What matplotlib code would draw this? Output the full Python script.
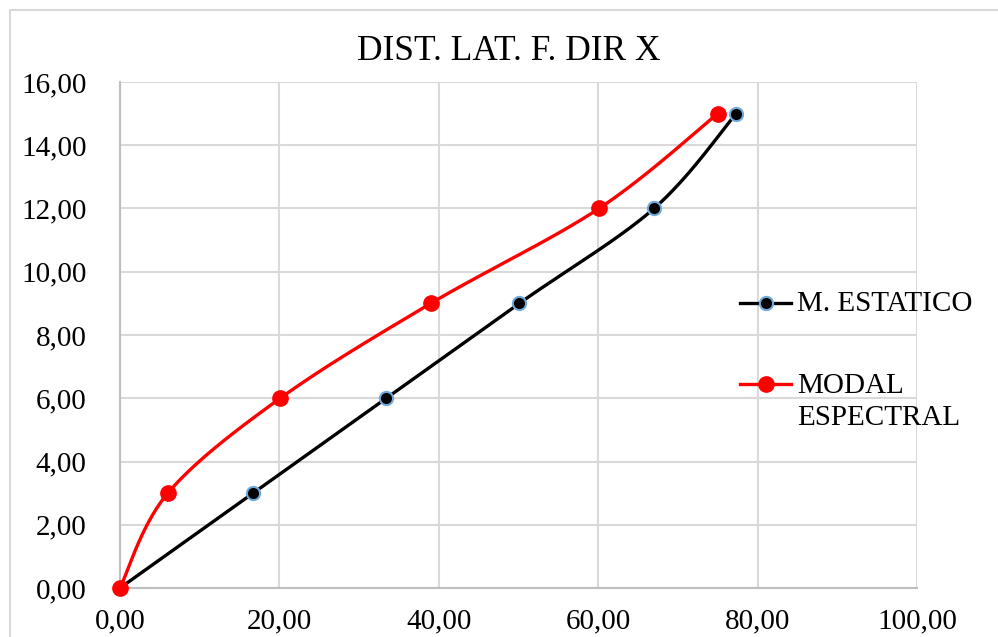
import numpy as np
import matplotlib
matplotlib.use("Agg")
import matplotlib.pyplot as plt
from matplotlib.ticker import FuncFormatter
from matplotlib.lines import Line2D
from matplotlib.patches import Rectangle

title = "DIST. LAT. F. DIR X"
series_names = ["M. ESTATICO", "MODAL\nESPECTRAL"]
estatico_x = [0.0, 16.7, 33.4, 50.1, 67.0, 77.3]
estatico_y = [0, 3, 6, 9, 12, 15]
modal_x = [0.0, 6.0, 20.1, 39.0, 60.1, 75.0]
modal_y = [0, 3, 6, 9, 12, 15]
x_ticks = [0, 20, 40, 60, 80, 100]
y_ticks = [0, 2, 4, 6, 8, 10, 12, 14, 16]

plt.rcParams['font.family'] = ['Liberation Serif', 'DejaVu Serif']


def smooth(xs, ys, n=40):
    P = np.column_stack([xs, ys]).astype(float)
    m = len(P)
    out = [P[0]]
    t = np.linspace(0, 1, n)[1:]
    for i in range(m - 1):
        p0 = P[i - 1] if i > 0 else P[i]
        p1 = P[i]
        p2 = P[i + 1]
        p3 = P[i + 2] if i + 2 < m else P[i + 1]
        c1 = p1 + (p2 - p0) / 6.0
        c2 = p2 - (p3 - p1) / 6.0
        for tt in t:
            b = ((1 - tt) ** 3) * p1 + 3 * ((1 - tt) ** 2) * tt * c1 + 3 * (1 - tt) * tt ** 2 * c2 + tt ** 3 * p2
            out.append(b)
    out = np.array(out)
    return out[:, 0], out[:, 1]


fig = plt.figure(figsize=(9.98, 6.37), dpi=100)
W, H = 998, 637
ax = fig.add_axes([120 / W, 1 - 588 / H, (917 - 120) / W, (588 - 82) / H])

fig.patches.append(Rectangle((10 / W, -0.1), 1.2, 1 - 10 / H + 0.1, transform=fig.transFigure,
                             fill=False, edgecolor='#D9D9D9', linewidth=1.5, zorder=0))

grid_c = '#D9D9D9'
ax.set_xlim(0, 100)
ax.set_ylim(0, 16)
ax.set_xticks(x_ticks)
ax.set_yticks(y_ticks)
fmt = FuncFormatter(lambda v, p: f"{v:.2f}".replace('.', ','))
ax.xaxis.set_major_formatter(fmt)
ax.yaxis.set_major_formatter(fmt)
ax.grid(True, color=grid_c, linewidth=1.5)
ax.set_axisbelow(True)
for s in ['top', 'right']:
    ax.spines[s].set_visible(False)
for s in ['left', 'bottom']:
    ax.spines[s].set_color('#BFBFBF')
    ax.spines[s].set_linewidth(1.5)
ax.tick_params(length=0, labelsize=21, colors='black')
ax.tick_params(axis='y', pad=24)
ax.tick_params(axis='x', pad=15)

lw = 2.4
sx, sy = smooth(estatico_x, estatico_y)
ax.plot(sx, sy, color='black', linewidth=lw, zorder=3, clip_on=False)
ax.plot(estatico_x, estatico_y, linestyle='none', marker='o', markersize=9.5,
        markerfacecolor='black', markeredgecolor='#6FA8DC', markeredgewidth=1.5, zorder=4, clip_on=False)

mx, my = smooth(modal_x, modal_y)
ax.plot(mx, my, color='#FF0000', linewidth=lw, zorder=3, clip_on=False)
ax.plot(modal_x, modal_y, linestyle='none', marker='o', markersize=11,
        markerfacecolor='#FF0000', markeredgecolor='#FF0000', zorder=5, clip_on=False)

fig.text(509 / W, 1 - 52 / H, title, fontsize=25.5, ha='center', va='center')

h1 = Line2D([], [], color='black', linewidth=lw, marker='o', markersize=9.5,
            markerfacecolor='black', markeredgecolor='#6FA8DC', markeredgewidth=1.5)
h2 = Line2D([], [], color='#FF0000', linewidth=lw, marker='o', markersize=11,
            markerfacecolor='#FF0000', markeredgecolor='#FF0000')
leg = fig.legend([h1, h2], series_names, loc='upper left',
                 bbox_to_anchor=(740 / W, 1 - 291 / H), frameon=False, fontsize=21,
                 handlelength=1.75, handletextpad=0.2, labelspacing=1.9,
                 handleheight=1.0, borderaxespad=0, borderpad=0)
for t in leg.get_texts():
    t.set_linespacing(1.3)
for col in leg._legend_handle_box.get_children():
    for hp in col.get_children():
        hp.align = 'top'

fig.savefig('out.png', dpi=100)
